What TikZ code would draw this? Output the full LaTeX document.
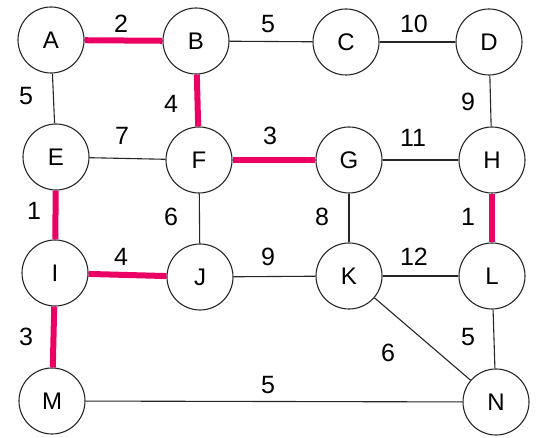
\documentclass[tikz,border=0pt]{standalone}
\usepackage{fontspec}
\setmainfont{Liberation Sans}
\definecolor{hl}{RGB}{235,0,100}
\begin{document}
\begin{tikzpicture}[x=1pt,y=-1pt,
  vert/.style={circle,draw=black!85,line width=1.1pt,minimum size=66pt,inner sep=0pt,font=\fontsize{24}{24}\selectfont},
  edge/.style={draw=black!85,line width=1.1pt},
  tree/.style={draw=hl,line width=6pt},
  wt/.style={font=\fontsize{25}{25}\selectfont,inner sep=0pt}]
\useasboundingbox (0,0) rectangle (544,438);
\node[vert] (A) at (51,40) {A};
\node[vert] (B) at (196,41) {B};
\node[vert] (C) at (346,42) {C};
\node[vert] (D) at (489,42) {D};
\node[vert] (E) at (56,157) {E};
\node[vert] (F) at (199,160) {F};
\node[vert] (G) at (349,160) {G};
\node[vert] (H) at (492,160) {H};
\node[vert] (I) at (55,273) {I};
\node[vert] (J) at (200,277) {J};
\node[vert] (K) at (349,276) {K};
\node[vert] (L) at (492,276) {L};
\node[vert] (M) at (52,401) {M};
\node[vert] (N) at (496,402) {N};
% thin edges
\draw[edge] (B) -- (C);
\draw[edge] (C) -- (D);
\draw[edge] (A) -- (E);
\draw[edge] (E) -- (F);
\draw[edge] (D) -- (H);
\draw[edge] (G) -- (H);
\draw[edge] (F) -- (J);
\draw[edge] (G) -- (K);
\draw[edge] (J) -- (K);
\draw[edge] (K) -- (L);
\draw[edge] (K) -- (N);
\draw[edge] (L) -- (N);
\draw[edge] (M) -- (N);
% spanning tree edges
\draw[tree] (A) -- (B);
\draw[tree] (B) -- (F);
\draw[tree] (F) -- (G);
\draw[tree] (E) -- (I);
\draw[tree] (I) -- (J);
\draw[tree] (I) -- (M);
\draw[tree] (H) -- (L);
% weights
\node[wt] (wAB) at (121,24) {2};
\node[wt] (wBC) at (268,24) {5};
\node[wt] (wCD) at (414,24) {10};
\node[wt] (wAE) at (26,96) {5};
\node[wt] (wBF) at (171,104) {4};
\node[wt] (wEF) at (122,136) {7};
\node[wt] (wFG) at (270,136) {3};
\node[wt] (wGH) at (413,138) {11};
\node[wt] (wDH) at (468,102) {9};
\node[wt] (wEI) at (34,211) {1};
\node[wt] (wFJ) at (171,217) {6};
\node[wt] (wGK) at (322,217) {8};
\node[wt] (wHL) at (468,217) {1};
\node[wt] (wIJ) at (121,257) {4};
\node[wt] (wJK) at (268,257) {9};
\node[wt] (wKL) at (414,257) {12};
\node[wt] (wIM) at (26,337) {3};
\node[wt] (wLN) at (468,337) {5};
\node[wt] (wKN) at (388,353) {6};
\node[wt] (wMN) at (268,385) {5};
\end{tikzpicture}
\end{document}
